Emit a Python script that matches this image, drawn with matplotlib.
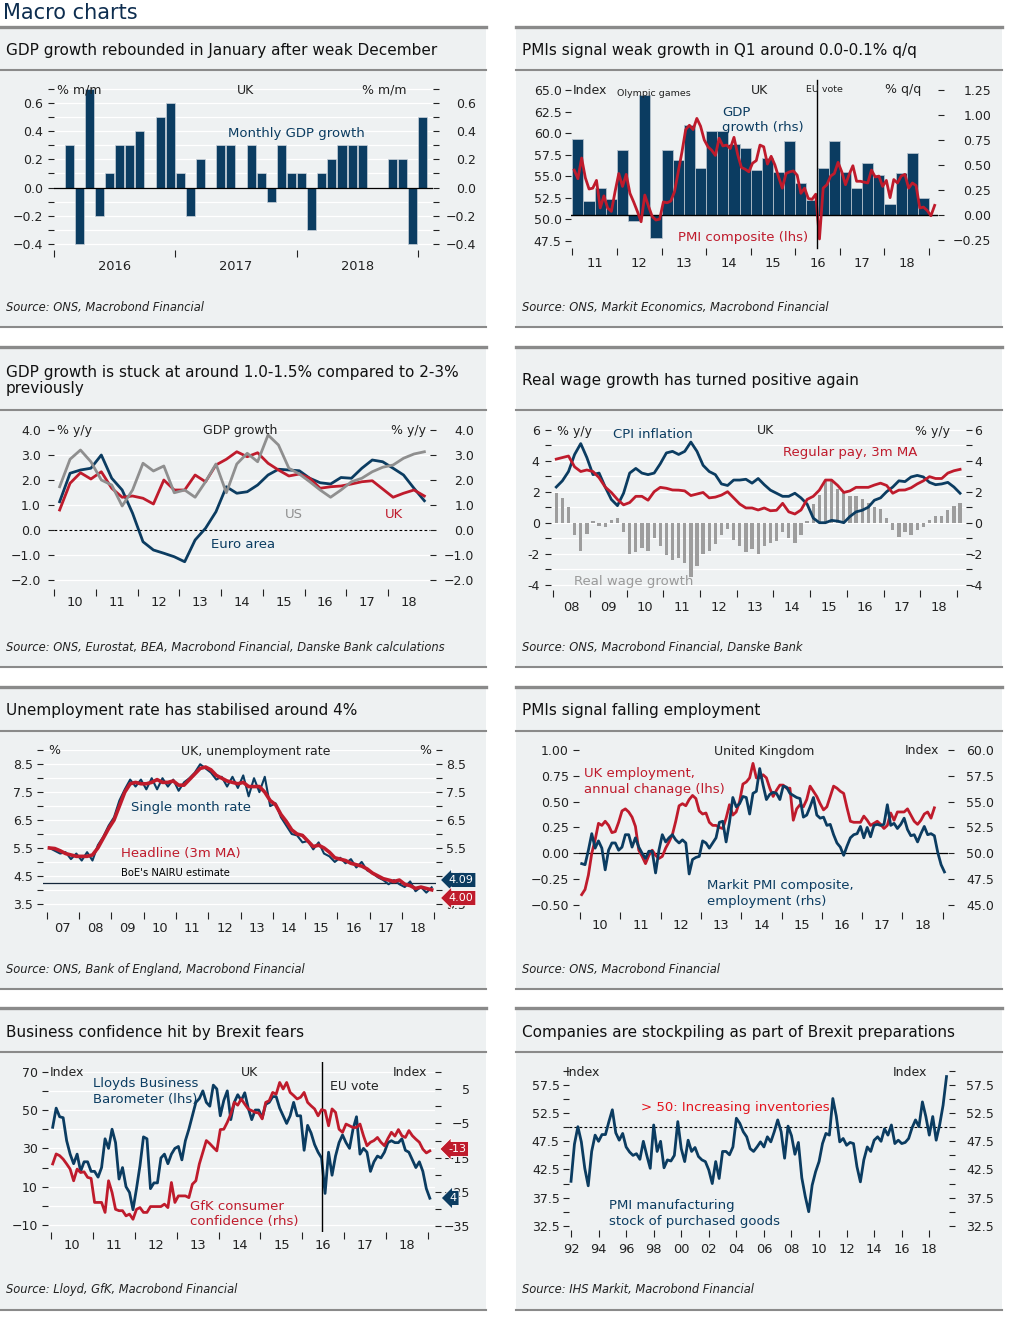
import matplotlib
matplotlib.use("Agg")
import matplotlib.pyplot as plt
import numpy as np
from matplotlib.lines import Line2D
from matplotlib.patches import Rectangle
from matplotlib.ticker import FixedFormatter, FixedLocator, FuncFormatter, NullFormatter

W, H = 1009, 1318
NAVY = "#0b3c61"
RED = "#bf1b2c"
GREY = "#8f8f8f"
BG = "#eef1f2"
RULE = "#8a8a8a"
INK = "#222222"
TICK_PT = 9.0
XLAB_PT = 9.4
HEAD_PT = 9.0
SERIES_PT = 9.5

# ---------------- data ----------------
# UK monthly GDP growth, Jan 2016 - Jan 2019 (% m/m)
gdp_mm = [0.0, 0.3, -0.4, 0.7, -0.2, 0.1, 0.3, 0.3, 0.4, 0.0, 0.5, 0.6,
          0.1, -0.2, 0.2, 0.0, 0.3, 0.3, 0.0, 0.3, 0.1, -0.1, 0.3, 0.1,
          0.1, -0.3, 0.1, 0.2, 0.3, 0.3, 0.3, 0.0, 0.0, 0.2, 0.2, -0.4,
          0.5]
gdp_mm_years = ["2016", "2017", "2018"]

# UK GDP q/q, 2011Q1 - 2018Q4, and PMI composite monthly, Jan 2011 - Feb 2019
gdp_qq = [0.76, 0.14, 0.27, 0.16, 0.65, -0.06, 1.20, -0.23,
          0.65, 0.55, 0.90, 0.47, 0.84, 0.84, 0.71, 0.67,
          0.45, 0.57, 0.43, 0.74, 0.32, 0.15, 0.47, 0.74,
          0.43, 0.27, 0.52, 0.40, 0.11, 0.42, 0.62, 0.17]
pmi_composite = [55.7, 54.7, 57.1, 54.8, 53.5, 53.6, 54.5, 51.3, 52.7, 51.3, 50.9, 53.2,
                 55.3, 53.8, 55.2, 53.0, 52.0, 50.9, 49.7, 52.8, 51.5, 50.3, 49.9, 50.0,
                 52.0, 51.9, 52.1, 53.2, 55.5, 57.8, 60.4, 60.9, 60.4, 61.7, 60.8, 59.2,
                 58.4, 58.0, 57.4, 59.4, 58.5, 58.6, 58.2, 59.5, 57.5, 56.0, 55.8, 55.5,
                 56.5, 56.8, 58.6, 58.4, 56.4, 57.3, 56.3, 54.9, 53.6, 55.3, 55.5, 55.6,
                 55.1, 53.0, 53.6, 52.4, 52.3, 52.9, 47.7, 53.6, 54.0, 55.0, 55.3, 56.6,
                 55.5, 54.0, 55.2, 56.2, 54.4, 54.4, 54.3, 54.2, 55.7, 54.9, 55.0, 53.8,
                 54.5, 52.5, 54.6, 54.2, 55.0, 55.2, 53.6, 54.2, 53.9, 51.3, 51.4, 51.0,
                 50.4, 51.6]
EU_VOTE = 2016.48

# GDP growth y/y, quarterly 2010Q1 - 2018Q4
ea_gdp = [1.13, 2.27, 2.40, 2.47, 3.00, 2.07, 1.60, 0.67, -0.47, -0.80, -0.93, -1.07,
          -1.27, -0.40, 0.07, 0.73, 1.73, 1.47, 1.53, 1.80, 2.20, 2.43, 2.40, 2.37,
          2.07, 1.89, 1.84, 2.10, 2.07, 2.47, 2.80, 2.73, 2.47, 2.20, 1.67, 1.17]
uk_gdp = [0.80, 1.87, 2.29, 2.04, 2.33, 1.67, 1.31, 1.36, 1.27, 1.04, 2.00, 1.60,
          1.60, 2.20, 1.93, 2.60, 2.83, 3.13, 2.93, 3.09, 2.67, 2.40, 2.16, 2.24,
          2.07, 1.67, 1.73, 1.76, 1.84, 1.93, 1.97, 1.64, 1.31, 1.47, 1.60, 1.36]
us_gdp = [1.73, 2.83, 3.20, 2.73, 2.00, 1.80, 0.96, 1.60, 2.67, 2.36, 2.56, 1.49,
          1.60, 1.31, 1.93, 2.64, 1.49, 2.64, 3.07, 2.73, 3.80, 3.40, 2.47, 2.24,
          1.93, 1.60, 1.31, 1.60, 1.93, 2.07, 2.33, 2.51, 2.60, 2.87, 3.04, 3.13]

# UK wages and prices, every second month from Jan 2008 (% y/y)
cpi = [2.3, 2.7, 3.3, 4.4, 5.1, 4.2,
       3.1, 3.2, 2.3, 1.5, 1.1, 1.9,
       3.2, 3.5, 3.2, 3.1, 3.2, 3.8,
       4.5, 4.6, 4.4, 4.6, 5.2, 4.6,
       3.7, 3.3, 3.1, 2.5, 2.4, 2.75,
       2.75, 2.8, 2.55, 2.85, 2.45, 2.1,
       1.9, 1.7, 1.7, 1.9, 1.6, 1.2,
       0.3, 0.0, 0.0, 0.15, 0.1, 0.0,
       0.4, 0.7, 0.8, 1.0, 1.45, 1.6,
       2.0, 2.3, 2.7, 2.65, 2.95, 3.05,
       2.95, 2.6, 2.45, 2.5, 2.6, 2.3,
       1.9]
regular_pay = [4.1, 4.2, 4.3, 3.6, 3.3, 3.4,
               3.3, 2.9, 2.3, 1.95, 1.5, 1.15,
               1.3, 1.7, 1.7, 1.45, 2.0, 2.28,
               2.22, 2.11, 2.1, 2.05, 1.75, 1.85,
               1.95, 1.6, 1.65, 1.78, 2.0, 1.6,
               1.2, 0.95, 0.95, 0.82, 0.95, 0.77,
               0.8, 1.25, 0.7, 0.56, 0.82, 1.5,
               1.7, 2.1, 2.75, 2.75, 2.4, 1.95,
               2.05, 2.28, 2.28, 2.28, 2.43, 2.55,
               2.4, 1.9, 2.1, 2.11, 2.25, 2.5,
               2.7, 2.97, 2.85, 2.85, 3.2, 3.35,
               3.44]
real_wage = [1.9, 1.6, 1.0, -0.8, -1.8, -0.7,
             0.1, -0.2, -0.3, 0.2, 0.3, -0.6,
             -2.0, -1.9, -1.6, -1.8, -1.0, -1.5,
             -2.1, -2.4, -2.3, -2.6, -3.5, -2.8,
             -2.0, -1.8, -1.4, -0.8, -0.4, -1.1,
             -1.5, -1.9, -1.7, -2.0, -1.5, -1.3,
             -1.2, -0.6, -1.0, -1.3, -0.8, 0.1,
             1.2, 1.8, 2.7, 2.7, 2.2, 1.9,
             1.7, 1.7, 1.5, 1.3, 1.0, 0.9,
             0.3, -0.5, -0.9, -0.6, -0.8, -0.5,
             -0.3, 0.2, 0.4, 0.4, 0.8, 1.1,
             1.3]

# UK unemployment rate, every second month from Jan 2007 (%)
unemp_single = [5.5, 5.4, 5.3, 5.35, 5.1, 5.3,
                5.05, 5.35, 5.05, 5.6, 5.9, 6.3,
                6.6, 7.2, 7.6, 7.95, 7.7, 7.95,
                7.6, 8.0, 7.6, 8.0, 7.7, 7.95,
                7.55, 7.85, 8.0, 8.2, 8.5, 8.35,
                8.2, 7.95, 8.05, 7.7, 8.05, 7.65,
                8.1, 7.35, 8.0, 7.5, 8.05, 7.0,
                7.1, 6.6, 6.3, 6.0, 5.95, 5.7,
                5.75, 5.45, 5.7, 5.3, 5.2, 5.0,
                5.15, 4.95, 5.1, 4.8, 5.0, 4.7,
                4.6, 4.45, 4.35, 4.2, 4.35, 4.2,
                4.1, 4.3, 3.95, 4.1, 3.9, 4.09]
unemp_headline = [5.5, 5.48, 5.4, 5.3, 5.25, 5.2,
                  5.2, 5.2, 5.25, 5.5, 5.85, 6.2,
                  6.5, 7.0, 7.5, 7.8, 7.85, 7.8,
                  7.8, 7.85, 7.95, 7.85, 7.85, 7.9,
                  7.75, 7.75, 7.95, 8.15, 8.35, 8.4,
                  8.3, 8.1, 8.0, 7.9, 7.85, 7.8,
                  7.85, 7.7, 7.7, 7.7, 7.5, 7.2,
                  7.05, 6.7, 6.45, 6.15, 6.0, 5.95,
                  5.75, 5.55, 5.6, 5.5, 5.35, 5.15,
                  5.1, 5.05, 4.95, 4.9, 4.85, 4.75,
                  4.6, 4.5, 4.4, 4.35, 4.3, 4.35,
                  4.2, 4.15, 4.05, 4.1, 4.05, 4.0]
NAIRU = 4.25

# UK employment annual change (mn, monthly from Jan 2010) and PMI employment index
uk_employment = [-0.40, -0.35, -0.21, 0.00, 0.13, 0.29, 0.27, 0.31, 0.27, 0.20, 0.21, 0.30,
                 0.41, 0.43, 0.40, 0.35, 0.26, 0.03, -0.03, -0.10, -0.02, 0.03, -0.02, -0.05,
                 -0.03, 0.05, 0.11, 0.18, 0.31, 0.46, 0.48, 0.46, 0.52, 0.56, 0.53, 0.41,
                 0.38, 0.39, 0.30, 0.27, 0.27, 0.25, 0.24, 0.34, 0.47, 0.37, 0.40, 0.50,
                 0.67, 0.69, 0.73, 0.87, 0.73, 0.73, 0.76, 0.73, 0.63, 0.55, 0.61, 0.66,
                 0.66, 0.63, 0.63, 0.32, 0.43, 0.47, 0.45, 0.52, 0.65, 0.60, 0.55, 0.48,
                 0.42, 0.45, 0.55, 0.65, 0.63, 0.60, 0.58, 0.44, 0.31, 0.30, 0.30, 0.30,
                 0.36, 0.32, 0.27, 0.29, 0.31, 0.28, 0.24, 0.27, 0.39, 0.32, 0.40, 0.40,
                 0.40, 0.43, 0.37, 0.31, 0.28, 0.32, 0.38, 0.40, 0.34, 0.44]
pmi_employment = [49.0, 48.9, 50.3, 51.9, 50.5, 51.2, 50.5, 48.4, 50.3, 51.0, 51.0, 50.3,
                  50.6, 51.8, 51.8, 50.6, 51.5, 50.6, 50.0, 49.5, 50.2, 50.2, 48.1, 50.3,
                  51.8, 51.1, 51.5, 51.8, 51.3, 51.0, 51.3, 51.0, 48.0, 49.4, 49.6, 49.7,
                  51.2, 51.0, 50.5, 51.0, 51.5, 53.0, 53.1, 51.1, 53.0, 55.4, 54.5, 54.8,
                  55.5, 55.4, 53.8, 55.8, 56.0, 58.2, 56.6, 55.2, 55.7, 55.9, 55.8, 55.2,
                  56.5, 56.4, 55.8, 55.6, 55.4, 55.3, 53.5, 53.7, 54.5, 55.4, 53.7, 53.4,
                  53.5, 52.7, 52.8, 51.8, 51.0, 50.6, 49.8, 50.7, 51.5, 51.8, 51.9, 52.6,
                  51.5, 52.5, 51.6, 52.7, 52.8, 52.7, 52.8, 54.7, 52.7, 52.9, 52.4, 52.8,
                  53.4, 52.3, 51.7, 51.8, 51.1, 51.9, 52.6, 51.8, 51.9, 51.7, 50.1, 48.9,
                  48.2]

# Lloyds Business Barometer (lhs) and GfK consumer confidence (rhs), monthly from Jan 2010
lloyds_barometer = [41, 51, 46.5, 46, 34, 27, 22, 27, 18, 23, 23, 18,
                    18, 15, 20, 35, 30, 40, 33, 14, 20, 10, 7, -2,
                    9, 21, 36, 35, 9, 12, 12, 25, 27, 22, 27, 30,
                    31, 24, 34, 40, 47, 54, 56, 60, 54, 52, 63, 61,
                    47, 55, 60, 45, 54, 58, 55, 59, 51, 45, 50, 50,
                    46, 53, 54, 57, 57, 51, 47, 43, 47, 54, 47, 47,
                    29, 42, 38, 32, 28, 25, 6.5, 28, 16, 26, 33, 37,
                    33, 30, 40, 46.5, 27, 30, 28, 18, 23, 26, 25, 28,
                    33, 34, 33, 33, 35, 29, 28, 24, 20, 23, 18, 9,
                    4]
gfk_confidence = [-16.8, -13.9, -14.4, -15.4, -16.8, -18.3, -21.7, -18.3, -19.3, -19.1, -20.7, -21.0,
                  -28.0, -28.0, -28.0, -30.9, -21.7, -25.1, -30.0, -30.4, -30.4, -31.9, -31.4, -32.9,
                  -30.0, -29.5, -30.9, -30.9, -29.2, -29.2, -29.2, -29.2, -28.5, -29.5, -22.2, -28.0,
                  -26.1, -26.1, -26.1, -26.6, -22.7, -21.7, -16.8, -13.4, -10.0, -10.9, -12.0, -13.0,
                  -6.8, -6.7, -4.7, -2.3, 1.1, 0.3, 2.1, 0.6, -0.8, -1.3, -1.8, -2.0,
                  -3.7, 1.1, 1.6, 4.0, 3.5, 6.9, 5.0, 6.9, 4.0, 3.1, 2.1, 2.6,
                  4.0, 1.1, 0.1, -0.8, -2.8, -1.0, -1.3, -5.7, -0.8, -1.8, -6.7, -7.6,
                  -5.2, -5.7, -6.2, -6.2, -5.2, -8.6, -11.5, -10.5, -10.0, -9.1, -10.5, -11.5,
                  -9.4, -7.6, -8.7, -6.8, -8.6, -9.1, -7.1, -8.6, -9.6, -10.5, -12.5, -13.6,
                  -13.0]

# PMI manufacturing stocks of purchases, quarterly from 1992Q1
pmi_stocks = [40.4, 47.0, 50.1, 47.4, 42.7, 39.6, 45.7, 48.6,
              47.5, 48.7, 48.7, 51.0, 53.1, 49.0, 47.7, 48.9,
              46.5, 45.6, 45.0, 45.3, 44.3, 47.5, 45.0, 42.7,
              50.4, 45.7, 47.5, 42.8, 44.2, 44.0, 45.0, 51.0,
              46.2, 43.9, 47.7, 45.7, 46.4, 44.8, 44.2, 43.9,
              42.4, 40.0, 43.9, 40.9, 45.7, 45.7, 45.1, 46.5,
              51.6, 50.7, 49.2, 48.3, 46.2, 45.7, 46.5, 47.4,
              46.5, 48.3, 47.4, 49.2, 51.3, 49.2, 44.5, 50.2,
              48.5, 45.2, 47.3, 41.0, 37.7, 35.0, 39.7, 42.1,
              43.9, 47.1, 48.9, 48.6, 55.1, 52.0, 47.4, 48.0,
              46.8, 47.3, 47.1, 43.0, 40.3, 44.2, 46.5, 45.7,
              47.7, 48.3, 47.5, 49.7, 48.6, 50.4, 47.1, 47.7,
              47.1, 47.3, 48.0, 49.9, 51.3, 50.1, 54.5, 51.9,
              48.6, 51.9, 47.7, 50.4, 53.9, 59.0]

# ---------------- helpers ----------------
fig = plt.figure(figsize=(W / 100, H / 100), dpi=100)


def text_px(x, y, s, **kw):
    kw.setdefault("va", "center")
    return fig.text(x / W, 1 - y / H, s, **kw)


def hide_spines(ax):
    ax.set_facecolor("none")
    for sp in ax.spines.values():
        sp.set_visible(False)


def axes_px(left, top, right, bottom):
    ax = fig.add_axes([left / W, 1 - bottom / H, (right - left) / W, (bottom - top) / H])
    hide_spines(ax)
    return ax


def twin(ax):
    axr = ax.twinx()
    hide_spines(axr)
    return axr


def fmt(spec, dash="\u2212"):
    return FuncFormatter(lambda v, _: format(v, spec).replace("-", dash))


def frame(x0, x1, top, sep, bottom, title, source, title_y):
    fig.add_artist(Rectangle((x0 / W, 1 - bottom / H), (x1 - x0) / W, (bottom - top) / H,
                             transform=fig.transFigure, facecolor=BG, edgecolor="none", zorder=-10))
    for y, lw in [(top, 2.4), (sep, 1.5), (bottom, 1.5)]:
        fig.add_artist(Line2D([x0 / W, x1 / W], [1 - y / H] * 2, transform=fig.transFigure,
                              color=RULE, lw=lw, zorder=-5))
    text_px(x0 + 6, title_y, title, fontsize=11, color="#111111", linespacing=1.15)
    text_px(x0 + 6, bottom - 20, source, fontsize=8.3, style="italic", color=INK)


def yticks(ax, major, minor, formatter, pad_px, right=False, grid=False):
    ax.yaxis.set_major_locator(FixedLocator(major))
    ax.yaxis.set_minor_locator(FixedLocator(minor))
    ax.yaxis.set_major_formatter(formatter)
    ax.yaxis.set_minor_formatter(NullFormatter())
    ax.tick_params(axis="y", which="both", length=4.5, width=0.8, direction="out",
                   color=INK, labelcolor=INK, labelsize=TICK_PT, pad=pad_px * 0.72,
                   left=not right, labelleft=not right, right=right, labelright=right)
    if right:
        for t in ax.yaxis.get_major_ticks():
            t.label2.set_horizontalalignment("right")
    if grid:
        ax.grid(axis="y", which="both", color="white", lw=0.9)
        ax.set_axisbelow(True)


def year_ticks(ax, first, last, pad_px, last_label=None):
    last_label = last if last_label is None else last_label
    edges = list(range(first, last + 1))
    centers = [y + 0.5 for y in range(first, last_label)]
    labels = [f"{y % 100:02d}" for y in range(first, last_label)]
    ax.xaxis.set_major_locator(FixedLocator(edges))
    ax.xaxis.set_major_formatter(NullFormatter())
    ax.xaxis.set_minor_locator(FixedLocator(centers))
    ax.xaxis.set_minor_formatter(FixedFormatter(labels))
    ax.tick_params(axis="x", which="major", length=5, width=0.8, direction="out", color=INK)
    ax.tick_params(axis="x", which="minor", length=0, pad=pad_px * 0.72,
                   labelsize=XLAB_PT, labelcolor=INK)


def tag(x, y, s, color):
    text_px(x, y, s, color="white", fontsize=8, ha="center", zorder=10,
            bbox=dict(boxstyle="larrow,pad=0.22", fc=color, ec="white", lw=0.6))


def head(x, y, s, **kw):
    kw.setdefault("color", INK)
    text_px(x, y, s, fontsize=HEAD_PT, **kw)


def series_label(x, y, s, color):
    text_px(x, y, s, fontsize=SERIES_PT, color=color)


text_px(3, 13, "Macro charts", fontsize=15, color="#0d2d4f")

# ---------------- 1: monthly GDP ----------------
frame(0, 486, 27, 70, 327, "GDP growth rebounded in January after weak December",
      "Source: ONS, Macrobond Financial", 50)
ax = axes_px(54, 87, 433, 250)
idx = np.arange(len(gdp_mm))
ax.bar(idx, gdp_mm, width=0.9, color=NAVY, edgecolor="#c9d2da", lw=0.5, zorder=3)
ax.axhline(0, color="black", lw=0.9, zorder=4)
ax.set_xlim(-0.5, 37.0)
ax.set_ylim(-0.443, 0.713)
ax.xaxis.set_major_locator(FixedLocator([-0.5, 11.5, 23.5, 35.5]))
ax.xaxis.set_major_formatter(NullFormatter())
ax.xaxis.set_minor_locator(FixedLocator([5.5, 17.5, 29.5]))
ax.xaxis.set_minor_formatter(FixedFormatter(gdp_mm_years))
ax.tick_params(axis="x", which="major", length=5, width=0.8, color=INK)
ax.tick_params(axis="x", which="minor", length=0, pad=7.5, labelsize=XLAB_PT, labelcolor=INK)
major = [-0.4, -0.2, 0.0, 0.2, 0.4, 0.6]
minor = [-0.3, -0.1, 0.1, 0.3, 0.5, 0.7]
yticks(ax, major, minor, fmt(".1f"), 5, grid=True)
axr = twin(ax)
axr.set_ylim(ax.get_ylim())
yticks(axr, major, minor, fmt(".1f"), 37, right=True)
head(57, 90, "% m/m")
head(246, 90, "UK", ha="center")
head(407, 90, "% m/m", ha="right")
series_label(228, 134, "Monthly GDP growth", NAVY)

# ---------------- 2: PMI vs GDP ----------------
frame(516, 1002, 27, 70, 327, "PMIs signal weak growth in Q1 around 0.0-0.1% q/q",
      "Source: ONS, Markit Economics, Macrobond Financial", 50)
ax = axes_px(571, 88, 938, 248)
axr = twin(ax)
quarters = 2011 + np.arange(len(gdp_qq)) * 0.25
axr.bar(quarters, gdp_qq, width=0.25, align="edge", color=NAVY, edgecolor="#b3c0cb", lw=0.6)
axr.axhline(0, color="black", lw=1)
months = 2011 + (np.arange(len(pmi_composite)) + 0.5) / 12
ax.plot(months, pmi_composite, color=RED, lw=2)
ax.axvline(EU_VOTE, color="black", lw=1, ymin=0, ymax=1.05, clip_on=False)
ax.set_zorder(axr.get_zorder() + 1)
ax.set_xlim(2010.97, 2019.2)
ax.set_ylim(46.65, 65.23)
axr.set_ylim(-0.33, 1.27)
year_ticks(ax, 2011, 2019, 9)
yticks(ax, list(np.arange(47.5, 65.1, 2.5)), [], fmt(".1f"), 3)
yticks(axr, list(np.arange(-0.25, 1.26, 0.25)), [], fmt(".2f"), 47, right=True)
head(573, 90, "Index")
text_px(617, 93, "Olympic games", fontsize=6.8, color=INK)
head(760, 90, "UK", ha="center")
text_px(806, 89, "EU vote", fontsize=6.8, color=INK)
head(921, 90, "% q/q", ha="right")
series_label(722, 112, "GDP", NAVY)
series_label(722, 128, "growth (rhs)", NAVY)
series_label(678, 237, "PMI composite (lhs)", RED)

# ---------------- 3: GDP y/y ----------------
frame(0, 486, 347, 410, 667,
      "GDP growth is stuck at around 1.0-1.5% compared to 2-3%\npreviously",
      "Source: ONS, Eurostat, BEA, Macrobond Financial, Danske Bank calculations", 380.5)
ax = axes_px(54, 425, 430, 589)
qx = 2010 + (np.arange(len(ea_gdp)) + 0.5) / 4
ax.axhline(0, color="black", lw=0.8, ls=(0, (2.5, 2)))
ax.plot(qx, ea_gdp, color=NAVY, lw=2)
ax.plot(qx, uk_gdp, color=RED, lw=2)
ax.plot(qx, us_gdp, color=GREY, lw=2)
ax.set_xlim(2009.99, 2019.01)
ax.set_ylim(-2.36, 4.2)
year_ticks(ax, 2010, 2018, 7, last_label=2019)
major = [-2, -1, 0, 1, 2, 3, 4]
yticks(ax, major, [], fmt(".1f"), 7, grid=True)
axr = twin(ax)
axr.set_ylim(ax.get_ylim())
yticks(axr, major, [], fmt(".1f"), 38, right=True)
head(57, 430, "% y/y")
head(240, 430, "GDP growth", ha="center")
head(426, 430, "% y/y", ha="right")
text_px(294, 514, "US", fontsize=SERIES_PT, ha="center", color=GREY)
text_px(394, 514, "UK", fontsize=SERIES_PT, ha="center", color=RED)
series_label(211, 545, "Euro area", NAVY)

# ---------------- 4: real wages ----------------
frame(516, 1002, 347, 410, 667, "Real wage growth has turned positive again",
      "Source: ONS, Macrobond Financial, Danske Bank", 380)
ax = axes_px(551, 425, 966, 590)
bim = 2008 + (2 * np.arange(len(cpi)) + 1) / 12
ax.bar(bim, real_wage, width=0.09, color="#9d9d9d", edgecolor="none", zorder=2)
ax.plot(bim, cpi, color=NAVY, lw=2, zorder=3)
ax.plot(bim, regular_pay, color=RED, lw=2, zorder=4)
ax.set_xlim(2007.94, 2019.245)
ax.set_ylim(-4.34, 6.30)
year_ticks(ax, 2008, 2019, 11)
major = [-4, -2, 0, 2, 4, 6]
minor = [-3, -1, 1, 3, 5]
yticks(ax, major, minor, fmt("d", "-"), 5, grid=True)
axr = twin(ax)
axr.set_ylim(ax.get_ylim())
yticks(axr, major, minor, fmt("d", "-"), 10, right=True)
head(557, 431, "% y/y")
series_label(613, 435, "CPI inflation", NAVY)
head(766, 431, "UK", ha="center")
head(950, 431, "% y/y", ha="right")
series_label(783, 453, "Regular pay, 3m MA", RED)
series_label(574, 581, "Real wage growth", "#9a9a9a")

# ---------------- 5: unemployment ----------------
frame(0, 486, 687, 731, 989, "Unemployment rate has stabilised around 4%",
      "Source: ONS, Bank of England, Macrobond Financial", 711)
ax = axes_px(43, 750, 436, 912)
bm7 = 2007 + (2 * np.arange(len(unemp_single)) + 1) / 12
ax.axhline(NAIRU, color="#13263a", lw=0.9)
ax.plot(bm7, unemp_single, color=NAVY, lw=1.5)
ax.plot(bm7, unemp_headline, color=RED, lw=2.6)
ax.set_xlim(2006.885, 2019.05)
ax.set_ylim(3.206, 9.01)
year_ticks(ax, 2007, 2019, 10)
major = [3.5, 4.5, 5.5, 6.5, 7.5, 8.5]
minor = [4, 5, 6, 7, 8, 9]
yticks(ax, major, minor, fmt(".1f"), 4, grid=True)
axr = twin(ax)
axr.set_ylim(ax.get_ylim())
yticks(axr, major, minor, fmt(".1f"), 24, right=True)
head(48, 751, "%")
head(256, 751, "UK, unemployment rate", ha="center")
head(431, 751, "%", ha="right")
series_label(131, 807, "Single month rate", NAVY)
series_label(121, 853, "Headline (3m MA)", RED)
text_px(121, 873, "BoE's NAIRU estimate", fontsize=7.2, color="black")
tag(461, 880, f"{unemp_single[-1]:.2f}", NAVY)
tag(461, 898, f"{unemp_headline[-1]:.2f}", RED)

# ---------------- 6: PMI employment ----------------
frame(516, 1002, 687, 731, 989, "PMIs signal falling employment",
      "Source: ONS, Macrobond Financial", 711)
ax = axes_px(579, 745, 948, 912)
axr = twin(ax)
m10 = 2010 + (np.arange(len(uk_employment)) + 0.5) / 12
ax.axhline(0, color="black", lw=0.9)
ax.plot(m10, uk_employment, color=RED, lw=2)
m10b = 2010 + (np.arange(len(pmi_employment)) + 0.5) / 12
axr.plot(m10b, pmi_employment, color=NAVY, lw=2)
ax.set_xlim(2009.975, 2019.13)
ax.set_ylim(-0.568, 1.048)
axr.set_ylim(44.32, 60.48)
year_ticks(ax, 2010, 2019, 7)
yticks(ax, [-0.5, -0.25, 0, 0.25, 0.5, 0.75, 1.0], [], fmt(".2f"), 4)
yticks(axr, list(np.arange(45, 60.1, 2.5)), [], fmt(".1f"), 40, right=True)
head(764, 751, "United Kingdom", ha="center")
head(939, 751, "Index", ha="right")
series_label(584, 774, "UK employment,", RED)
series_label(584, 790, "annual chanage (lhs)", RED)
series_label(707, 886, "Markit PMI composite,", NAVY)
series_label(707, 902, "employment (rhs)", NAVY)

# ---------------- 7: business confidence ----------------
frame(0, 486, 1008, 1052, 1310, "Business confidence hit by Brexit fears",
      "Source: Lloyd, GfK, Macrobond Financial", 1032)
ax = axes_px(48, 1062, 435, 1232)
axr = twin(ax)
m10c = 2010 + (np.arange(len(lloyds_barometer)) + 0.5) / 12
ax.plot(m10c, lloyds_barometer, color=NAVY, lw=2)
axr.plot(m10c, gfk_confidence, color=RED, lw=2)
ax.axvline(EU_VOTE, color="black", lw=1)
ax.set_xlim(2009.93, 2019.165)
ax.set_ylim(-13.62, 75.06)
axr.set_ylim(-36.60, 12.85)
year_ticks(ax, 2010, 2019, 7)
yticks(ax, [-10, 10, 30, 50, 70], [0, 20, 40, 60], fmt("d"), 4, grid=True)
yticks(axr, [-35, -25, -15, -5, 5], [-30, -20, -10, 0, 10], fmt("d"), 29, right=True)
head(50, 1072, "Index")
head(250, 1072, "UK", ha="center")
head(427, 1072, "Index", ha="right")
head(330, 1087, "EU vote")
series_label(93, 1084, "Lloyds Business", NAVY)
series_label(93, 1100, "Barometer (lhs)", NAVY)
series_label(190, 1207, "GfK consumer", RED)
series_label(190, 1222, "confidence (rhs)", RED)
tag(457, 1149, f"{gfk_confidence[-1]:.0f}", RED)
tag(453, 1198, f"{lloyds_barometer[-1]:.0f}", NAVY)

# ---------------- 8: stockpiling ----------------
frame(516, 1002, 1008, 1052, 1310, "Companies are stockpiling as part of Brexit preparations",
      "Source: IHS Markit, Macrobond Financial", 1032)
ax = axes_px(569, 1068, 949, 1230)
qx92 = 1992 + np.arange(len(pmi_stocks)) / 4
ax.axhline(50, color="black", lw=0.8, ls=(0, (2.5, 2)))
ax.plot(qx92, pmi_stocks, color=NAVY, lw=2)
ax.set_xlim(1991.855, 2019.43)
ax.set_ylim(31.75, 60.52)
years = list(range(1992, 2019, 2))
ax.xaxis.set_major_locator(FixedLocator(years))
ax.xaxis.set_major_formatter(FixedFormatter([f"{y % 100:02d}" for y in years]))
ax.tick_params(axis="x", which="major", length=5, width=0.8, color=INK, pad=4.5,
               labelsize=XLAB_PT, labelcolor=INK)
major = [32.5, 37.5, 42.5, 47.5, 52.5, 57.5]
minor = [35, 40, 45, 50, 55, 60]
yticks(ax, major, minor, fmt(".1f"), 3)
axr = twin(ax)
axr.set_ylim(ax.get_ylim())
yticks(axr, major, minor, fmt(".1f"), 39, right=True)
head(566, 1072, "Index")
head(927, 1072, "Index", ha="right")
series_label(641, 1108, "> 50: Increasing inventories", "#e3151e")
series_label(609, 1205, "PMI manufacturing", NAVY)
series_label(609, 1221, "stock of purchased goods", NAVY)

fig.savefig("out.png", dpi=100)
